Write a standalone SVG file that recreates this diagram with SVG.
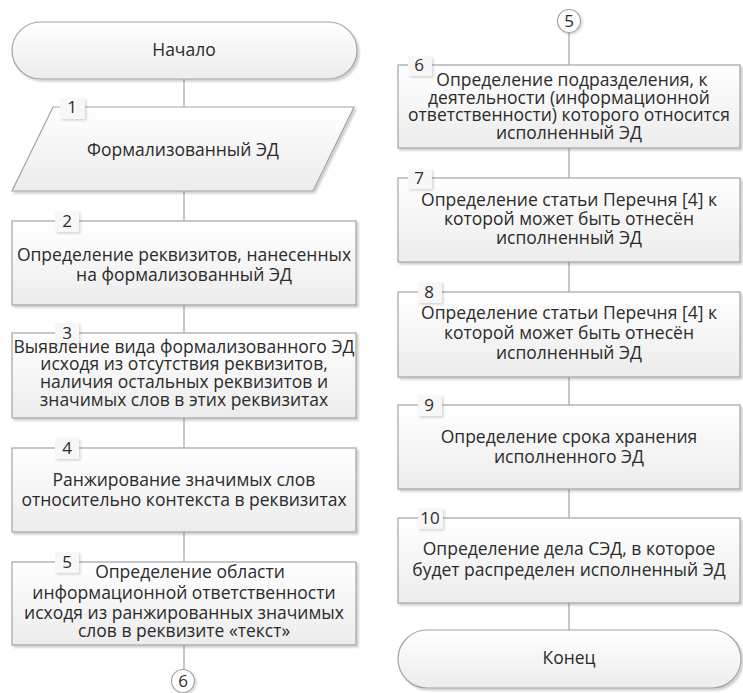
<svg xmlns="http://www.w3.org/2000/svg" width="743" height="693" viewBox="0 0 743 693">
<defs>
<linearGradient id="g" x1="0" y1="0" x2="0" y2="1">
<stop offset="0" stop-color="#ffffff"/>
<stop offset="1" stop-color="#ececec"/>
</linearGradient>
<filter id="sh" x="-5%" y="-5%" width="115%" height="125%">
<feDropShadow dx="2" dy="2" stdDeviation="1.2" flood-color="#000" flood-opacity="0.2"/>
</filter>
<filter id="tsh" x="-20%" y="-20%" width="160%" height="160%">
<feDropShadow dx="1.5" dy="1.5" stdDeviation="0.8" flood-color="#000" flood-opacity="0.16"/>
</filter>
</defs>
<style>
.box{fill:url(#g);stroke:#a3a3a3;stroke-width:1.2;filter:url(#sh)}
.tab{fill:#f7f7f7;stroke:none;filter:url(#tsh)}
.t{font-family:"Open Sans","Noto Sans","DejaVu Sans",sans-serif;font-size:17.5px;fill:#2b2b2b;text-anchor:middle}
.n{font-family:"Open Sans","Noto Sans","DejaVu Sans",sans-serif;font-size:17px;fill:#2b2b2b;text-anchor:middle}
.c{stroke:#a3a3a3;stroke-width:1.2;fill:none}
.cc{fill:#ffffff;stroke:#a3a3a3;stroke-width:1.2;filter:url(#tsh)}
</style>
<rect width="743" height="693" fill="#ffffff"/>
<g id="connectors">
<line class="c" x1="184" y1="79" x2="184" y2="107"/>
<line class="c" x1="184" y1="191" x2="184" y2="221"/>
<line class="c" x1="184" y1="305" x2="184" y2="333"/>
<line class="c" x1="184" y1="418" x2="184" y2="448"/>
<line class="c" x1="184" y1="532" x2="184" y2="562"/>
<line class="c" x1="184" y1="645" x2="184" y2="669"/>
<line class="c" x1="569" y1="32" x2="569" y2="65"/>
<line class="c" x1="569" y1="148" x2="569" y2="178"/>
<line class="c" x1="569" y1="262" x2="569" y2="292"/>
<line class="c" x1="569" y1="377" x2="569" y2="405"/>
<line class="c" x1="569" y1="489" x2="569" y2="518"/>
<line class="c" x1="569" y1="603" x2="569" y2="630"/>
</g>
<g id="start">
<rect class="box" x="12" y="22" width="345" height="57" rx="28.5"/>
<text class="t" x="184" y="56">Начало</text>
</g>
<g id="n1">
<polygon class="box" points="53,107 354,107 313,191 12,191"/>
<rect class="tab" x="60" y="98" width="25" height="21"/>
<text class="n" x="72" y="113">1</text>
<text class="t" x="183" y="156">Формализованный ЭД</text>
</g>
<g id="n2">
<rect class="box" x="12" y="221" width="344" height="84"/>
<rect class="tab" x="55" y="211" width="24" height="21"/>
<text class="n" x="67" y="227">2</text>
<text class="t" x="184" y="261">Определение реквизитов, нанесенных</text>
<text class="t" x="184" y="281">на формализованный ЭД</text>
</g>
<g id="n3">
<rect class="box" x="12" y="333" width="344" height="85"/>
<rect class="tab" x="55" y="323" width="24" height="20"/>
<text class="n" x="67" y="339">3</text>
<text class="t" x="184" y="353">Выявление вида формализованного ЭД</text>
<text class="t" x="184" y="370">исходя из отсутствия реквизитов,</text>
<text class="t" x="184" y="388">наличия остальных реквизитов и</text>
<text class="t" x="184" y="406">значимых слов в этих реквизитах</text>
</g>
<g id="n4">
<rect class="box" x="12" y="448" width="344" height="84"/>
<rect class="tab" x="55" y="438" width="24" height="21"/>
<text class="n" x="67" y="454">4</text>
<text class="t" x="184" y="486">Ранжирование значимых слов</text>
<text class="t" x="184" y="506">относительно контекста в реквизитах</text>
</g>
<g id="n5">
<rect class="box" x="12" y="562" width="344" height="83"/>
<rect class="tab" x="55" y="552" width="24" height="21"/>
<text class="n" x="67" y="568">5</text>
<text class="t" x="190" y="578">Определение области</text>
<text class="t" x="184" y="599">информационной ответственности</text>
<text class="t" x="184" y="619">исходя из ранжированных значимых</text>
<text class="t" x="184" y="637">слов в реквизите «текст»</text>
</g>
<g id="off6">
<circle class="cc" cx="183" cy="681" r="11.5"/>
<text class="n" x="183" y="687">6</text>
</g>
<g id="off5">
<circle class="cc" cx="569" cy="21" r="11.5"/>
<text class="n" x="569" y="27">5</text>
</g>
<g id="n6">
<rect class="box" x="398" y="65" width="342" height="83"/>
<rect class="tab" x="408" y="56" width="24" height="20"/>
<text class="n" x="419" y="71">6</text>
<text class="t" x="572" y="86">Определение подразделения, к</text>
<text class="t" x="569" y="104">деятельности (информационной</text>
<text class="t" x="569" y="121">ответственности) которого относится</text>
<text class="t" x="569" y="139">исполненный ЭД</text>
</g>
<g id="n7">
<rect class="box" x="398" y="178" width="342" height="84"/>
<rect class="tab" x="408" y="169" width="24" height="20"/>
<text class="n" x="419" y="184">7</text>
<text class="t" x="569" y="206">Определение статьи Перечня [4] к</text>
<text class="t" x="569" y="225">которой может быть отнесён</text>
<text class="t" x="569" y="244">исполненный ЭД</text>
</g>
<g id="n8">
<rect class="box" x="398" y="292" width="342" height="85"/>
<rect class="tab" x="418" y="282" width="24" height="21"/>
<text class="n" x="429" y="298">8</text>
<text class="t" x="569" y="319">Определение статьи Перечня [4] к</text>
<text class="t" x="569" y="339">которой может быть отнесён</text>
<text class="t" x="569" y="359">исполненный ЭД</text>
</g>
<g id="n9">
<rect class="box" x="398" y="405" width="342" height="84"/>
<rect class="tab" x="418" y="395" width="24" height="21"/>
<text class="n" x="429" y="411">9</text>
<text class="t" x="569" y="443">Определение срока хранения</text>
<text class="t" x="569" y="463">исполненного ЭД</text>
</g>
<g id="n10">
<rect class="box" x="398" y="518" width="342" height="85"/>
<rect class="tab" x="418" y="508" width="25" height="21"/>
<text class="n" x="430" y="524">10</text>
<text class="t" x="569" y="555">Определение дела СЭД, в которое</text>
<text class="t" x="569" y="576">будет распределен исполненный ЭД</text>
</g>
<g id="end">
<rect class="box" x="398" y="630" width="343" height="58" rx="29"/>
<text class="t" x="569" y="664">Конец</text>
</g>
</svg>
